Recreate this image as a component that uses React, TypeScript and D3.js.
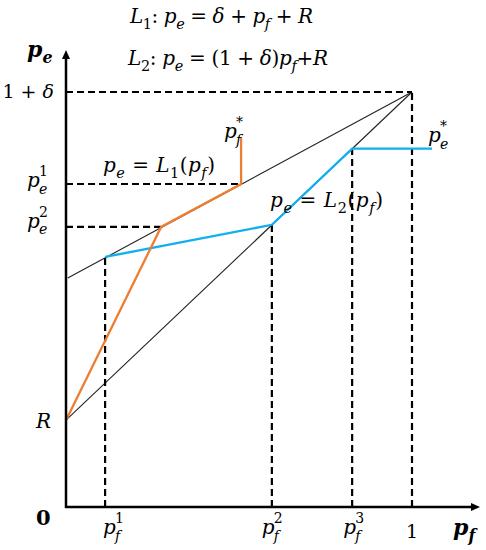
import React from "react";
import * as d3 from "d3";

// ---- data (in model units) ----
const pfCritical = [0.113, 0.595, 0.827, 1];
const pfTickLabels = [
  { base: "p", sup: "1", sub: "f" },
  { base: "p", sup: "2", sub: "f" },
  { base: "p", sup: "3", sub: "f" },
  { base: "1" },
];
const peLevels = { onePlusDelta: 1.2, pe1: 0.934, pe2: 0.81, R: 0.251 };
const lineL1: [number, number][] = [[0.005, 0.662], [1, 1.2]];
const lineL2: [number, number][] = [[0, 0.251], [1, 1.2]];
const bluePath: [number, number][] = [[0.113, 0.723], [0.595, 0.816], [0.827, 1.036], [1.058, 1.036]];
const orangePath: [number, number][] = [[0, 0.251], [0.275, 0.81], [0.506, 0.934], [0.506, 1.069]];

const W = 486, H = 550;
const x = d3.scaleLinear().domain([0, 1]).range([66, 412]);
const y = d3.scaleLinear().domain([0, 1.2]).range([507, 92]);

const FONT = "'DejaVu Serif', 'Liberation Serif', serif";
const ORANGE = "#ED7D31";
const BLUE = "#10B0EE";

type Seg = { t?: string; i?: boolean; sub?: string; sup?: string };

function Rich({ x: px, y: py, size, segs, anchor = "start", bold = false, len }:
  { x: number; y: number; size: number; segs: Seg[]; anchor?: string; bold?: boolean; len?: number }) {
  const small = size * 0.72;
  const out: React.ReactNode[] = [];
  let shift = 0;
  segs.forEach((s, k) => {
    if (s.t !== undefined) {
      out.push(
        <tspan key={k + "t"} dy={0 - shift} fontStyle={s.i ? "italic" : "normal"} fontSize={size}>{s.t}</tspan>
      );
      shift = 0;
    }
    if (s.sup !== undefined) {
      out.push(<tspan key={k + "p"} dy={-0.42 * size - shift} fontSize={small} fontStyle={/[0-9*]/.test(s.sup) ? "normal" : "italic"}>{s.sup}</tspan>);
      shift = -0.42 * size;
    } else if (s.sub !== undefined) {
      out.push(<tspan key={k + "b"} dy={0.28 * size - shift} fontSize={small} fontStyle={/[0-9]/.test(s.sub) ? "normal" : "italic"}>{s.sub}</tspan>);
      shift = 0.28 * size;
    }
  });
  const extra: any = len ? { textLength: len, lengthAdjust: "spacing" } : {};
  return (
    <text x={px} y={py} fontFamily={FONT} fontSize={size} textAnchor={anchor} fontWeight={bold ? "bold" : "normal"} fill="#000" {...extra}>
      {out}
    </text>
  );
}

// base letter with stacked superscript and subscript, drawn as separate texts
function Stacked({ x: px, y: py, size, base, sup, sub }:
  { x: number; y: number; size: number; base: string; sup: string; sub: string }) {
  const small = size * 0.7;
  const bw = size * 0.6;
  return (
    <g fontFamily={FONT} fill="#000">
      <text x={px} y={py} fontSize={size} fontStyle="italic">{base}</text>
      <text x={px + bw} y={py - 0.55 * size} fontSize={small} fontStyle={/[0-9*]/.test(sup) ? "normal" : "italic"}>{sup}</text>
      <text x={px + bw} y={py + 0.33 * size} fontSize={small} fontStyle="italic">{sub}</text>
    </g>
  );
}

export default function App() {
  const line = d3.line<[number, number]>().x(d => x(d[0])).y(d => y(d[1]));
  const dash = "7,4";
  const axisTop = 50;
  const axisRight = 480;
  const xLabelShift = [-2, -10, -9];
  return (
    <svg width={W} height={H} style={{ position: "absolute", left: 0, top: 0, background: "#fff" }}>
      {/* thin black lines */}
      <path d={line(lineL1) || ""} stroke="#222" strokeWidth={1.1} fill="none" />
      <path d={line(lineL2) || ""} stroke="#222" strokeWidth={1.1} fill="none" />

      {/* dashed guides */}
      <g stroke="#000" strokeWidth={2.2} strokeDasharray={dash} fill="none">
        <line x1={x(0)} x2={x(1)} y1={y(peLevels.onePlusDelta)} y2={y(peLevels.onePlusDelta)} />
        <line x1={x(0)} x2={x(orangePath[2][0])} y1={y(peLevels.pe1)} y2={y(peLevels.pe1)} />
        <line x1={x(0)} x2={x(orangePath[1][0])} y1={y(peLevels.pe2)} y2={y(peLevels.pe2)} />
        <line x1={x(pfCritical[0])} x2={x(pfCritical[0])} y1={y(0)} y2={y(bluePath[0][1])} />
        <line x1={x(pfCritical[1])} x2={x(pfCritical[1])} y1={y(0)} y2={y(bluePath[1][1])} />
        <line x1={x(pfCritical[2])} x2={x(pfCritical[2])} y1={y(0)} y2={y(bluePath[2][1])} />
        <line x1={x(pfCritical[3])} x2={x(pfCritical[3])} y1={y(0)} y2={y(peLevels.onePlusDelta)} />
      </g>

      {/* coloured paths */}
      <path d={line(bluePath) || ""} stroke={BLUE} strokeWidth={2.3} fill="none" />
      <path d={line(orangePath) || ""} stroke={ORANGE} strokeWidth={2.3} fill="none" />

      {/* axes */}
      <line x1={x(0)} x2={x(0)} y1={y(0) + 1} y2={axisTop + 6} stroke="#000" strokeWidth={2.5} />
      <polygon points={`${x(0)},${axisTop} ${x(0) - 4},${axisTop + 9} ${x(0) + 4},${axisTop + 9}`} fill="#000" />
      <line x1={x(0) - 1} x2={axisRight - 6} y1={y(0)} y2={y(0)} stroke="#000" strokeWidth={2.5} />
      <polygon points={`${axisRight},${y(0)} ${axisRight - 9},${y(0) - 4} ${axisRight - 9},${y(0) + 4}`} fill="#000" />

      {/* axis titles */}
      <Rich x={27} y={57} size={22} bold segs={[{ t: "p", i: true, sub: "e" }]} />
      <Rich x={453} y={535} size={22} bold segs={[{ t: "p", i: true, sub: "f" }]} />
      <text x={36} y={525} fontFamily={FONT} fontWeight="bold" fontSize={21}>0</text>

      {/* y tick labels */}
      <Rich x={54} y={y(peLevels.onePlusDelta) + 6} size={19} anchor="end"
        segs={[{ t: "1 + " }, { t: "δ", i: true }]} />
      <Stacked x={27} y={y(peLevels.pe1) + 3} size={20} base="p" sup="1" sub="e" />
      <Stacked x={27} y={y(peLevels.pe2) + 1} size={20} base="p" sup="2" sub="e" />
      <Rich x={36} y={y(peLevels.R) + 8} size={20} segs={[{ t: "R", i: true }]} />

      {/* x tick labels */}
      {pfTickLabels.map((lb, k) =>
        lb.sup ? (
          <Stacked key={k} x={x(pfCritical[k]) + xLabelShift[k]} y={534} size={20}
            base={lb.base} sup={lb.sup} sub={lb.sub as string} />
        ) : (
          <text key={k} x={x(pfCritical[k])} y={538} fontFamily={FONT} fontSize={19} textAnchor="middle">{lb.base}</text>
        )
      )}

      {/* equations */}
      <Rich x={130} y={23} size={20} len={183} segs={[
        { t: "L", i: true, sub: "1" }, { t: ": " }, { t: "p", i: true, sub: "e" }, { t: " = " },
        { t: "δ", i: true }, { t: " + " }, { t: "p", i: true, sub: "f" }, { t: " + " }, { t: "R", i: true },
      ]} />
      <Rich x={128} y={65} size={20} len={200} segs={[
        { t: "L", i: true, sub: "2" }, { t: ": " }, { t: "p", i: true, sub: "e" }, { t: " = (1 + " },
        { t: "δ", i: true }, { t: ")" }, { t: "p", i: true, sub: "f" }, { t: "+" }, { t: "R", i: true },
      ]} />

      {/* curve annotations */}
      <Rich x={103} y={172} size={20} len={112} segs={[
        { t: "p", i: true, sub: "e" }, { t: " = " }, { t: "L", i: true, sub: "1" }, { t: "(" },
        { t: "p", i: true, sub: "f" }, { t: ")" },
      ]} />
      <Rich x={270} y={207} size={20} len={113} segs={[
        { t: "p", i: true, sub: "e" }, { t: " = " }, { t: "L", i: true, sub: "2" }, { t: "(" },
        { t: "p", i: true, sub: "f" }, { t: ")" },
      ]} />
      <Stacked x={224} y={138} size={20} base="p" sup="*" sub="f" />
      <Stacked x={428} y={142} size={20} base="p" sup="*" sub="e" />
    </svg>
  );
}
